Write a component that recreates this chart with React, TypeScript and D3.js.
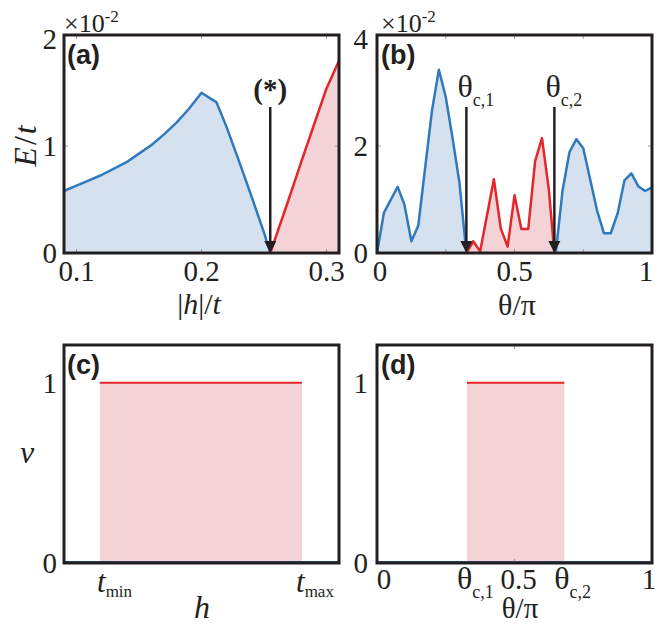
import React from "react";
import * as d3 from "d3";

// panel (a): energy gap vs |h|/t  (values in units of 1e-2)
const hBlue = [0.09, 0.1, 0.11, 0.12, 0.13, 0.14, 0.15, 0.16, 0.17, 0.18, 0.19, 0.2, 0.212, 0.22, 0.23, 0.24, 0.25, 0.255];
const eBlueA = [0.58, 0.63, 0.68, 0.73, 0.79, 0.85, 0.93, 1.01, 1.11, 1.22, 1.35, 1.5, 1.41, 1.18, 0.86, 0.53, 0.19, 0];
const hRed = [0.255, 0.26, 0.27, 0.28, 0.29, 0.3, 0.31];
const eRedA = [0, 0.17, 0.51, 0.86, 1.2, 1.54, 1.8];
const hCrit = 0.255;
const ticksA = [0.1, 0.2, 0.3];

// panel (b): energy gap vs theta/pi (values in units of 1e-2)
const thBlue1 = [0, 0.025, 0.075, 0.1, 0.125, 0.15, 0.2, 0.225, 0.25, 0.275, 0.3, 0.325];
const eBlue1 = [0, 0.75, 1.24, 0.9, 0.22, 0.51, 2.67, 3.43, 2.92, 2.14, 1.31, 0];
const thRed = [0.325, 0.35, 0.375, 0.425, 0.45, 0.475, 0.5, 0.525, 0.55, 0.575, 0.6, 0.625, 0.645];
const eRedB = [0, 0.22, 0.03, 1.38, 0.46, 0.12, 1.08, 0.45, 0.45, 1.72, 2.15, 1.18, 0];
const thBlue2 = [0.65, 0.675, 0.7, 0.725, 0.75, 0.8, 0.825, 0.85, 0.875, 0.9, 0.925, 0.95, 0.975, 1.0];
const eBlue2 = [0, 1.18, 1.89, 2.13, 1.96, 0.8, 0.37, 0.37, 0.74, 1.36, 1.49, 1.25, 1.16, 1.23];
const thetaC = [0.325, 0.645];

// panel (c) and (d): winding number nu
const hWindow = [0.13, 0.865]; // t_min, t_max on a normalised h axis
const thWindow = [0.327, 0.681];
const nuLevels = [0, 1];

const BLUE = "#3079bd";
const BLUE_FILL = "#d5e1ee";
const RED = "#e3262b";
const RED_FILL = "#f4d3d7";
const INK = "#231f20";
const SERIF = "Liberation Serif";
const SANS = "Liberation Sans";

const colA = { left: 64, right: 339 };
const colB = { left: 377, right: 652 };
const rowT = { top: 35, bottom: 253 };
const rowB = { top: 345, bottom: 563 };

type Pt = [number, number];
const zip = (xs: number[], ys: number[]): Pt[] => xs.map((x, i) => [x, ys[i]]);

const Arrow = ({ x, y1, y2 }: { x: number; y1: number; y2: number }) => (
  <g>
    <line x1={x} x2={x} y1={y1} y2={y2 - 10} stroke={INK} strokeWidth={2.5} />
    <path d={`M${x - 6},${y2 - 12} L${x + 6},${y2 - 12} L${x},${y2} Z`} fill={INK} />
  </g>
);

const Series = ({ pts, x, y, stroke, fill, width = 2.5 }: any) => {
  const area = d3.area<Pt>().x(d => x(d[0])).y0(y(0)).y1(d => y(d[1]));
  const line = d3.line<Pt>().x(d => x(d[0])).y(d => y(d[1]));
  return (
    <g>
      <path d={area(pts) || ""} fill={fill} />
      <path d={line(pts) || ""} fill="none" stroke={stroke} strokeWidth={width} strokeLinejoin="round" />
    </g>
  );
};

const Frame = ({ col, row }: any) => (
  <rect x={col.left} y={row.top} width={col.right - col.left} height={row.bottom - row.top}
    fill="none" stroke={INK} strokeWidth={3} />
);

const Scale10 = ({ x }: { x: number }) => (
  <text x={x} y={32} fontFamily={SERIF} fontSize={26} fill={INK}>
    ×10<tspan fontSize={17} dy={-10}>-2</tspan>
  </text>
);

const Label = ({ x, y, t }: any) => (
  <text x={x} y={y} fontFamily={SANS} fontWeight="bold" fontSize={27} fill={INK}>{t}</text>
);

const ThetaC = ({ x, y, i, size = 32 }: any) => (
  <text x={x} y={y} fontFamily={SERIF} fontSize={size} fill={INK}>
    θ<tspan fontSize={18} dy={9}>c,{i}</tspan>
  </text>
);

export default function App() {
  const xA = d3.scaleLinear().domain([0.09, 0.31]).range([colA.left, colA.right]);
  const yA = d3.scaleLinear().domain([0, 2.04]).range([rowT.bottom, rowT.top]);
  const xB = d3.scaleLinear().domain([0, 1]).range([colB.left, colB.right]);
  const yB = d3.scaleLinear().domain([0, 4.08]).range([rowT.bottom, rowT.top]);
  const xC = d3.scaleLinear().domain([0, 1]).range([colA.left, colA.right]);
  const yC = d3.scaleLinear().domain([0, 1.21]).range([rowB.bottom, rowB.top]);
  const xD = d3.scaleLinear().domain([0, 1]).range([colB.left, colB.right]);

  const tick = (x: number, y: number, v: boolean) =>
    v ? <line x1={x} x2={x} y1={y} y2={y - 4} stroke="#999" strokeWidth={1} />
      : <line x1={x} x2={x + 4} y1={y} y2={y} stroke="#999" strokeWidth={1} />;

  return (
    <svg width={667} height={627} style={{ position: "absolute", left: 0, top: 0, background: "#fff" }}>
      {/* ---------- (a) ---------- */}
      <Series pts={zip(hBlue, eBlueA)} x={xA} y={yA} stroke={BLUE} fill={BLUE_FILL} />
      <Series pts={zip(hRed, eRedA)} x={xA} y={yA} stroke={RED} fill={RED_FILL} />
      {ticksA.map(t => <g key={t}>{tick(xA(t), rowT.bottom, true)}{tick(xA(t), rowT.top + 4, true)}</g>)}
      {tick(colA.left, yA(1), false)}{tick(colA.right - 4, yA(1), false)}
      <Frame col={colA} row={rowT} />
      <Arrow x={xA(hCrit)} y1={107} y2={rowT.bottom} />
      <text x={xA(hCrit)} y={99} textAnchor="middle" fontFamily={SERIF} fontWeight="bold" fontSize={29} fill={INK}>(*)</text>
      <Label x={67} y={64} t="(a)" />
      <Scale10 x={64} />
      {[0, 1, 2].map(v => (
        <text key={v} x={57} y={yA(v) + 10} textAnchor="end" fontFamily={SERIF} fontSize={29} fill={INK}>{v}</text>
      ))}
      {ticksA.map(t => (
        <text key={t} x={xA(t)} y={281} textAnchor="middle" fontFamily={SERIF} fontSize={29} fill={INK}>{t}</text>
      ))}
      <text x={199} y={314} textAnchor="middle" fontFamily={SERIF} fontSize={30} fill={INK}>
        |<tspan fontStyle="italic">h</tspan>|/<tspan fontStyle="italic">t</tspan>
      </text>
      <text transform="translate(36,145) rotate(-90)" textAnchor="middle" fontFamily={SERIF} fontSize={32} letterSpacing={2} fill={INK}>
        <tspan fontStyle="italic">E</tspan>/<tspan fontStyle="italic">t</tspan>
      </text>

      {/* ---------- (b) ---------- */}
      <Series pts={zip(thBlue1, eBlue1)} x={xB} y={yB} stroke={BLUE} fill={BLUE_FILL} />
      <Series pts={zip(thRed, eRedB)} x={xB} y={yB} stroke={RED} fill={RED_FILL} />
      <Series pts={zip(thBlue2, eBlue2)} x={xB} y={yB} stroke={BLUE} fill={BLUE_FILL} />
      {[0.25, 0.5, 0.75].map(t => <g key={t}>{tick(xB(t), rowT.bottom, true)}{tick(xB(t), rowT.top + 4, true)}</g>)}
      {tick(colB.left, yB(2), false)}{tick(colB.right - 4, yB(2), false)}
      <Frame col={colB} row={rowT} />
      {thetaC.map((t, i) => (
        <g key={t}>
          <Arrow x={xB(t)} y1={107} y2={rowT.bottom} />
          <ThetaC x={xB(t) - 9} y={97} i={i + 1} />
        </g>
      ))}
      <Label x={381} y={64} t="(b)" />
      <Scale10 x={381} />
      {[0, 2, 4].map(v => (
        <text key={v} x={368} y={yB(v) + 10} textAnchor="end" fontFamily={SERIF} fontSize={29} fill={INK}>{v}</text>
      ))}
      {[0, 0.5, 1].map(t => (
        <text key={t} x={xB(t) + (t === 0 ? 3 : t === 1 ? -6 : 0)} y={281} textAnchor="middle" fontFamily={SERIF} fontSize={29} fill={INK}>{t}</text>
      ))}
      <text x={517} y={315} textAnchor="middle" fontFamily={SERIF} fontSize={30} fill={INK}>θ/π</text>

      {/* ---------- (c) ---------- */}
      <rect x={xC(hWindow[0])} y={yC(1)} width={xC(hWindow[1]) - xC(hWindow[0])} height={yC(0) - yC(1)} fill={RED_FILL} />
      <line x1={xC(hWindow[0])} x2={xC(hWindow[1])} y1={yC(1)} y2={yC(1)} stroke={RED} strokeWidth={2} />
      <line x1={colA.left} x2={colA.right} y1={yC(0) - 1} y2={yC(0) - 1} stroke="#2b5f93" strokeWidth={2} />
      <Frame col={colA} row={rowB} />
      <Label x={67} y={374} t="(c)" />
      {nuLevels.map(v => (
        <text key={v} x={57} y={yC(v) + 10} textAnchor="end" fontFamily={SERIF} fontSize={29} fill={INK}>{v}</text>
      ))}
      <text x={97} y={592} fontFamily={SERIF} fontSize={31} fill={INK}>
        <tspan fontStyle="italic">t</tspan><tspan fontSize={17} dy={5}>min</tspan>
      </text>
      <text x={296} y={592} fontFamily={SERIF} fontSize={31} fill={INK}>
        <tspan fontStyle="italic">t</tspan><tspan fontSize={17} dy={5}>max</tspan>
      </text>
      <text x={202} y={618} textAnchor="middle" fontFamily={SERIF} fontStyle="italic" fontSize={32} fill={INK}>h</text>
      <text x={27} y={463} textAnchor="middle" fontFamily={SERIF} fontStyle="italic" fontSize={32} fill={INK}>ν</text>

      {/* ---------- (d) ---------- */}
      <rect x={xD(thWindow[0])} y={yC(1)} width={xD(thWindow[1]) - xD(thWindow[0])} height={yC(0) - yC(1)} fill={RED_FILL} />
      <line x1={xD(thWindow[0])} x2={xD(thWindow[1])} y1={yC(1)} y2={yC(1)} stroke={RED} strokeWidth={2} />
      <line x1={colB.left} x2={colB.right} y1={yC(0) - 1} y2={yC(0) - 1} stroke="#2b5f93" strokeWidth={2} />
      {tick(xD(0.5), rowB.bottom, true)}{tick(xD(0.5), rowB.top + 4, true)}
      <Frame col={colB} row={rowB} />
      <Label x={381} y={374} t="(d)" />
      {nuLevels.map(v => (
        <text key={v} x={368} y={yC(v) + 10} textAnchor="end" fontFamily={SERIF} fontSize={29} fill={INK}>{v}</text>
      ))}
      {[0, 0.5, 1].map(t => (
        <text key={t} x={xD(t) + (t === 0 ? 7 : t === 1 ? -3 : 4)} y={589} textAnchor="middle" fontFamily={SERIF} fontSize={29} fill={INK}>{t}</text>
      ))}
      {thWindow.map((t, i) => <ThetaC key={t} x={xD(t) - 10} y={589} i={i + 1} />)}
      <text x={520} y={618} textAnchor="middle" fontFamily={SERIF} fontSize={29} fill={INK}>θ/π</text>
    </svg>
  );
}
